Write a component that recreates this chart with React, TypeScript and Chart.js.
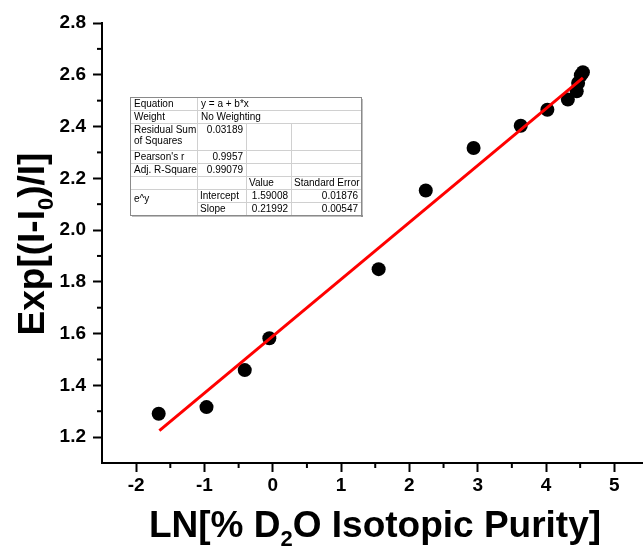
import React, { useEffect, useRef } from "react";
import { Chart, registerables } from "chart.js";

Chart.register(...registerables);

// Data
const xValues = [-1.67, -0.97, -0.41, -0.05, 1.55, 2.24, 2.94, 3.63, 4.02, 4.32, 4.45, 4.47, 4.51, 4.54];
const yValues = [1.29, 1.316, 1.459, 1.582, 1.849, 2.153, 2.317, 2.403, 2.465, 2.504, 2.536, 2.568, 2.598, 2.61];
// Linear fit line end points
const fitX = [-1.66, 4.54];
const fitY = [1.225, 2.588];

const xMinorTicks = [-1.5, -0.5, 0.5, 1.5, 2.5, 3.5, 4.5];
const yMinorTicks = [1.3, 1.5, 1.7, 1.9, 2.1, 2.3, 2.5, 2.7];

// Fit result table
const tableLabels = ["Equation", "Weight", "Residual Sum|of Squares", "Pearson's r", "Adj. R-Square"];
const tableTopValues = ["y = a + b*x", "No Weighting", "0.03189", "0.9957", "0.99079"];
const tableHeaders = ["Value", "Standard Error"];
const paramGroup = "e^y";
const paramNames = ["Intercept", "Slope"];
const paramValues = ["1.59008", "0.21992"];
const paramErrors = ["0.01876", "0.00547"];

const FONT = '"Liberation Sans", Arial, sans-serif';

const tablePlugin = {
  id: "fitTable",
  afterDraw(chart: any) {
    const ctx = chart.ctx as CanvasRenderingContext2D;
    const cols = [130, 197, 246, 291, 361];
    const rows = [97, 110, 123, 150, 163, 176, 189, 202, 215];
    ctx.save();
    // shadow
    ctx.fillStyle = "rgba(0,0,0,0.25)";
    ctx.fillRect(cols[0] + 2, rows[8], cols[4] - cols[0], 2);
    ctx.fillRect(cols[4], rows[0] + 2, 2, rows[8] - rows[0]);
    ctx.fillStyle = "#ffffff";
    ctx.fillRect(cols[0], rows[0], cols[4] - cols[0], rows[8] - rows[0]);
    // inner lines
    ctx.strokeStyle = "#d0d0d0";
    ctx.lineWidth = 1;
    const h = (y: number, x0: number, x1: number) => {
      ctx.beginPath();
      ctx.moveTo(x0, y + 0.5);
      ctx.lineTo(x1, y + 0.5);
      ctx.stroke();
    };
    const v = (x: number, y0: number, y1: number) => {
      ctx.beginPath();
      ctx.moveTo(x + 0.5, y0);
      ctx.lineTo(x + 0.5, y1);
      ctx.stroke();
    };
    for (let i = 1; i < 8; i++) {
      if (i === 7) h(rows[i], cols[1], cols[4]);
      else h(rows[i], cols[0], cols[4]);
    }
    v(cols[1], rows[0], rows[8]);
    v(cols[2], rows[2], rows[8]);
    v(cols[3], rows[2], rows[8]);
    // outer border
    ctx.strokeStyle = "#8a8a8a";
    ctx.strokeRect(cols[0] + 0.5, rows[0] + 0.5, cols[4] - cols[0], rows[8] - rows[0]);

    ctx.fillStyle = "#000";
    ctx.font = `10px ${FONT}`;
    ctx.textBaseline = "alphabetic";
    const base = (r: number) => rows[r] + 10;
    // label column
    tableLabels.forEach((lab, i) => {
      ctx.textAlign = "left";
      const parts = lab.split("|");
      parts.forEach((p, j) => ctx.fillText(p, cols[0] + 4, base(i) + j * 11));
    });
    // top values
    tableTopValues.forEach((val, i) => {
      if (i < 2) {
        ctx.textAlign = "left";
        ctx.fillText(val, cols[1] + 4, base(i));
      } else {
        ctx.textAlign = "right";
        ctx.fillText(val, cols[2] - 3, base(i));
      }
    });
    // headers
    ctx.textAlign = "left";
    ctx.fillText(tableHeaders[0], cols[2] + 3, base(5));
    ctx.fillText(tableHeaders[1], cols[3] + 3, base(5));
    ctx.fillText(paramGroup, cols[0] + 4, rows[6] + 13);
    paramNames.forEach((n, i) => {
      ctx.textAlign = "left";
      ctx.fillText(n, cols[1] + 3, base(6 + i));
      ctx.textAlign = "right";
      ctx.fillText(paramValues[i], cols[3] - 3, base(6 + i));
      ctx.fillText(paramErrors[i], cols[4] - 3, base(6 + i));
    });
    ctx.restore();
  },
};

const axisExtrasPlugin = {
  id: "axisExtras",
  afterDraw(chart: any) {
    const ctx = chart.ctx as CanvasRenderingContext2D;
    const xs = chart.scales.x;
    const ys = chart.scales.y;
    const area = chart.chartArea;
    ctx.save();
    ctx.strokeStyle = "#000";
    ctx.lineWidth = 2;
    // minor ticks
    xMinorTicks.forEach((t) => {
      const px = xs.getPixelForValue(t);
      ctx.beginPath();
      ctx.moveTo(px, area.bottom);
      ctx.lineTo(px, area.bottom + 5);
      ctx.stroke();
    });
    yMinorTicks.forEach((t) => {
      const py = ys.getPixelForValue(t);
      ctx.beginPath();
      ctx.moveTo(area.left, py);
      ctx.lineTo(area.left - 5, py);
      ctx.stroke();
    });

    const drawRich = (segs: { t: string; sub?: boolean }[], x: number, y: number) => {
      let cx = x;
      segs.forEach((s) => {
        ctx.font = s.sub ? `bold 22px ${FONT}` : `bold 37px ${FONT}`;
        ctx.fillText(s.t, cx, y + (s.sub ? 9 : 0));
        cx += ctx.measureText(s.t).width;
      });
    };
    const measureRich = (segs: { t: string; sub?: boolean }[]) => {
      let w = 0;
      segs.forEach((s) => {
        ctx.font = s.sub ? `bold 22px ${FONT}` : `bold 37px ${FONT}`;
        w += ctx.measureText(s.t).width;
      });
      return w;
    };
    ctx.fillStyle = "#000";
    ctx.textAlign = "left";
    ctx.textBaseline = "alphabetic";

    // X title
    const xt = [{ t: "LN[% D" }, { t: "2", sub: true }, { t: "O Isotopic Purity]" }];
    const xw = measureRich(xt);
    drawRich(xt, 375 - xw / 2, 537);

    // Y title
    const yt = [{ t: "Exp[(I-I" }, { t: "0", sub: true }, { t: ")/I]" }];
    const yw = measureRich(yt);
    ctx.save();
    ctx.translate(44, 244);
    ctx.rotate(-Math.PI / 2);
    drawRich(yt, -yw / 2, 0);
    ctx.restore();
    ctx.restore();
  },
};

export default function App() {
  const ref = useRef<HTMLCanvasElement | null>(null);
  useEffect(() => {
    if (!ref.current) return;
    const points = xValues.map((x, i) => ({ x, y: yValues[i] }));
    const fit = fitX.map((x, i) => ({ x, y: fitY[i] }));
    const tickFont = { family: FONT, size: 19, weight: "bold" as const };
    const chart = new Chart(ref.current, {
      type: "scatter",
      data: {
        datasets: [
          {
            type: "line",
            data: fit,
            borderColor: "#ff0000",
            borderWidth: 3,
            pointRadius: 0,
            fill: false,
          } as any,
          {
            data: points,
            backgroundColor: "#000",
            borderColor: "#000",
            borderWidth: 0,
            pointRadius: 7,
          },
        ],
      },
      options: {
        animation: false,
        responsive: false,
        layout: { autoPadding: false, padding: { top: 23, right: 0, left: 0, bottom: 0 } },
        plugins: { legend: { display: false }, tooltip: { enabled: false } },
        scales: {
          x: {
            type: "linear",
            min: -2.5,
            max: 5.42,
            ticks: {
              stepSize: 1,
              includeBounds: false,
              font: tickFont,
              color: "#000",
              padding: 2,
              maxRotation: 0,
            },
            grid: { drawOnChartArea: false, drawTicks: true, tickLength: 9, tickWidth: 2, tickColor: "#000" },
            border: { display: true, color: "#000", width: 2 },
            afterFit: (s: any) => {
              s.height = 83;
              s.paddingRight = 0;
              s.paddingLeft = 0;
            },
          },
          y: {
            type: "linear",
            min: 1.1,
            max: 2.8,
            ticks: {
              stepSize: 0.2,
              includeBounds: false,
              font: tickFont,
              color: "#000",
              padding: 7,
              callback: (v: any) => Number(v).toFixed(1),
            },
            grid: { drawOnChartArea: false, drawTicks: true, tickLength: 9, tickWidth: 2, tickColor: "#000" },
            border: { display: true, color: "#000", width: 2 },
            afterFit: (s: any) => {
              s.width = 102;
              s.paddingTop = 0;
              s.paddingBottom = 0;
            },
          },
        },
      },
      plugins: [tablePlugin, axisExtrasPlugin],
    });
    return () => chart.destroy();
  }, []);
  return (
    <div style={{ position: "absolute", left: 0, top: 0, width: 643, height: 546, background: "#fff" }}>
      <canvas ref={ref} width={643} height={546} />
    </div>
  );
}
